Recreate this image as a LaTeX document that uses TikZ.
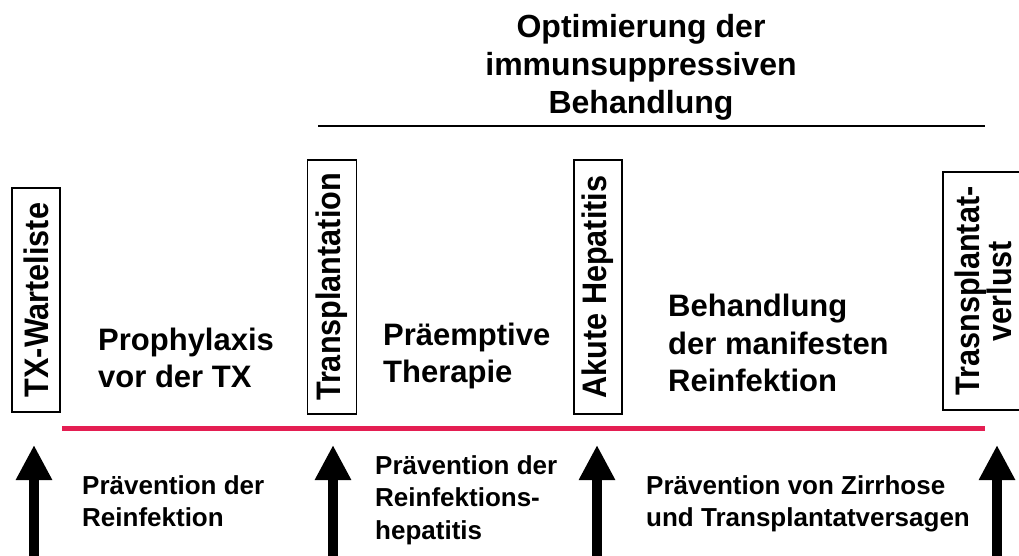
\documentclass[tikz,border=0pt]{standalone}
\usepackage{fontspec}
\setmainfont{Liberation Sans}
\newfontfamily\boxschrift{Liberation Sans}[FakeStretch=0.9]
\usepackage{tikz}
\usetikzlibrary{arrows.meta}
\definecolor{linienrot}{RGB}{228,30,82}
\tikzset{
  zeitbox/.style={draw, line width=1.6pt, rotate=90, inner sep=0pt, align=center,
    font=\boxschrift\bfseries\fontsize{34}{32}\selectfont},
  grosstext/.style={anchor=west, align=left, inner sep=0pt,
    font=\bfseries\fontsize{31}{37.5}\selectfont},
  kleintext/.style={anchor=west, align=left, inner sep=0pt,
    font=\bfseries\fontsize{26}{32.5}\selectfont},
  pfeil/.style={line width=10pt, -{Triangle[width=34pt,length=35pt]}}
}

\begin{document}
\begin{tikzpicture}[x=1pt,y=-1pt]
\useasboundingbox (0,0) rectangle (1019,556);
\node[align=center, inner sep=0pt, font=\bfseries\fontsize{32}{38}\selectfont] (titel) at (641,67)
  {Optimierung der\\immunsuppressiven\\Behandlung};
\draw[line width=2.2pt] (318,126) -- (985,126);
\node[zeitbox, minimum width=224pt, minimum height=48pt] (warteliste) at (36,300) {TX-Warteliste};
\node[zeitbox, minimum width=254pt, minimum height=49pt] (transpl) at (332,287) {Transplantation};
\node[zeitbox, minimum width=254pt, minimum height=48pt] (hepatitis) at (598,287) {Akute Hepatitis};
\node[zeitbox, minimum width=238pt, minimum height=80pt] (verlust) at (983,291) {Trasnsplantat-\\verlust};
\node[grosstext] (prophylaxe) at (98,358) {Prophylaxis\\vor der TX};
\node[grosstext] (praeemptiv) at (383,356) {Präemptive\\Therapie};
\node[grosstext] (manifest) at (668,343) {Behandlung\\der manifesten\\Reinfektion};
\draw[linienrot, line width=5pt] (62,428) -- (985,428);
\foreach \x [count=\i] in {34,333,597,997} {
  \coordinate (fuss\i) at (\x,556);
  \coordinate (spitze\i) at (\x,445);
  \draw[pfeil] (fuss\i) -- (spitze\i);
}
\node[kleintext] (praev1) at (82,501) {Prävention der\\Reinfektion};
\node[kleintext] (praev2) at (375,500) {Prävention der\\Reinfektions-\\hepatitis};
\node[kleintext] (praev3) at (646,504) {Prävention von Zirrhose\\und Transplantatversagen};
\end{tikzpicture}
\end{document}
